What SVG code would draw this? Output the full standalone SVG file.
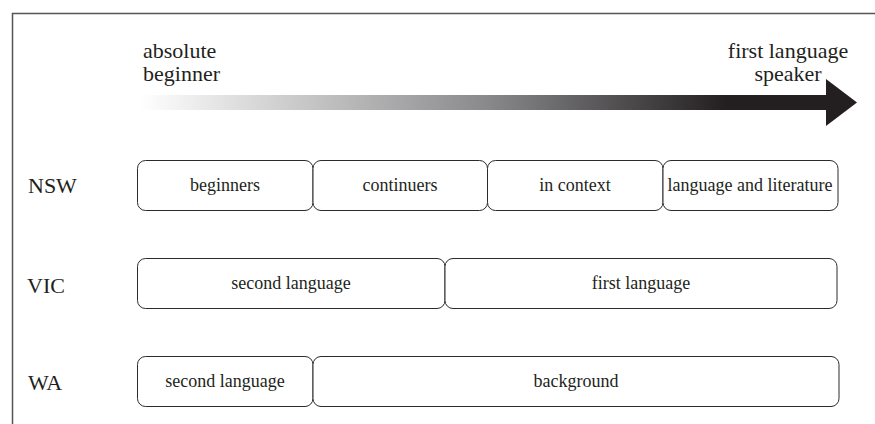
<svg xmlns="http://www.w3.org/2000/svg" width="875" height="424" viewBox="0 0 875 424">
<defs>
<linearGradient id="grad" x1="140" y1="0" x2="830" y2="0" gradientUnits="userSpaceOnUse">
<stop offset="0" stop-color="#ffffff"/>
<stop offset="0.5" stop-color="#8a8a8c"/>
<stop offset="0.85" stop-color="#231f20"/>
<stop offset="1" stop-color="#231f20"/>
</linearGradient>
</defs>
<style>
.frame{fill:none;stroke:#555;stroke-width:1.5}
.box{fill:#fff;stroke:#2b2b2b;stroke-width:1}
.lbl{font-family:"Liberation Serif","Times New Roman",serif;font-size:18px;fill:#231f20;text-anchor:middle}
.row{font-family:"Liberation Serif","Times New Roman",serif;font-size:22px;fill:#231f20}
.end{font-family:"Liberation Serif","Times New Roman",serif;font-size:22px;fill:#231f20}
</style>
<rect width="875" height="424" fill="#fff"/>
<path class="frame" d="M12.5,430 V13.5 H880"/>
<g id="scale">
<rect x="140" y="95" width="688" height="15" fill="url(#grad)"/>
<polygon points="826,79 857,102.5 826,126" fill="#231f20"/>
<text class="end" x="143" y="58">absolute</text>
<text class="end" x="143" y="81">beginner</text>
<text class="end" x="788" y="58" text-anchor="middle">first language</text>
<text class="end" x="788" y="81" text-anchor="middle">speaker</text>
</g>
<g id="nsw">
<text class="row" x="28" y="193">NSW</text>
<g id="nsw-beginners"><rect class="box" x="137.5" y="160.5" width="175.5" height="50" rx="8"/><text class="lbl" x="225" y="191">beginners</text></g>
<g id="nsw-continuers"><rect class="box" x="313" y="160.5" width="174.5" height="50" rx="8"/><text class="lbl" x="400" y="191">continuers</text></g>
<g id="nsw-context"><rect class="box" x="487.5" y="160.5" width="175.5" height="50" rx="8"/><text class="lbl" x="575" y="191">in context</text></g>
<g id="nsw-lit"><rect class="box" x="663" y="160.5" width="175" height="50" rx="8"/><text class="lbl" x="750" y="191">language and literature</text></g>
</g>
<g id="vic">
<text class="row" x="27" y="293">VIC</text>
<g id="vic-second"><rect class="box" x="137.5" y="258.5" width="307.5" height="50" rx="8"/><text class="lbl" x="291" y="289">second language</text></g>
<g id="vic-first"><rect class="box" x="445" y="258.5" width="392" height="50" rx="8"/><text class="lbl" x="641" y="289">first language</text></g>
</g>
<g id="wa">
<text class="row" x="28" y="390">WA</text>
<g id="wa-second"><rect class="box" x="137.5" y="356.5" width="175.5" height="50" rx="8"/><text class="lbl" x="225" y="387">second language</text></g>
<g id="wa-background"><rect class="box" x="313" y="356.5" width="526" height="50" rx="8"/><text class="lbl" x="576" y="387">background</text></g>
</g>
<g id="connectors"/>
</svg>
